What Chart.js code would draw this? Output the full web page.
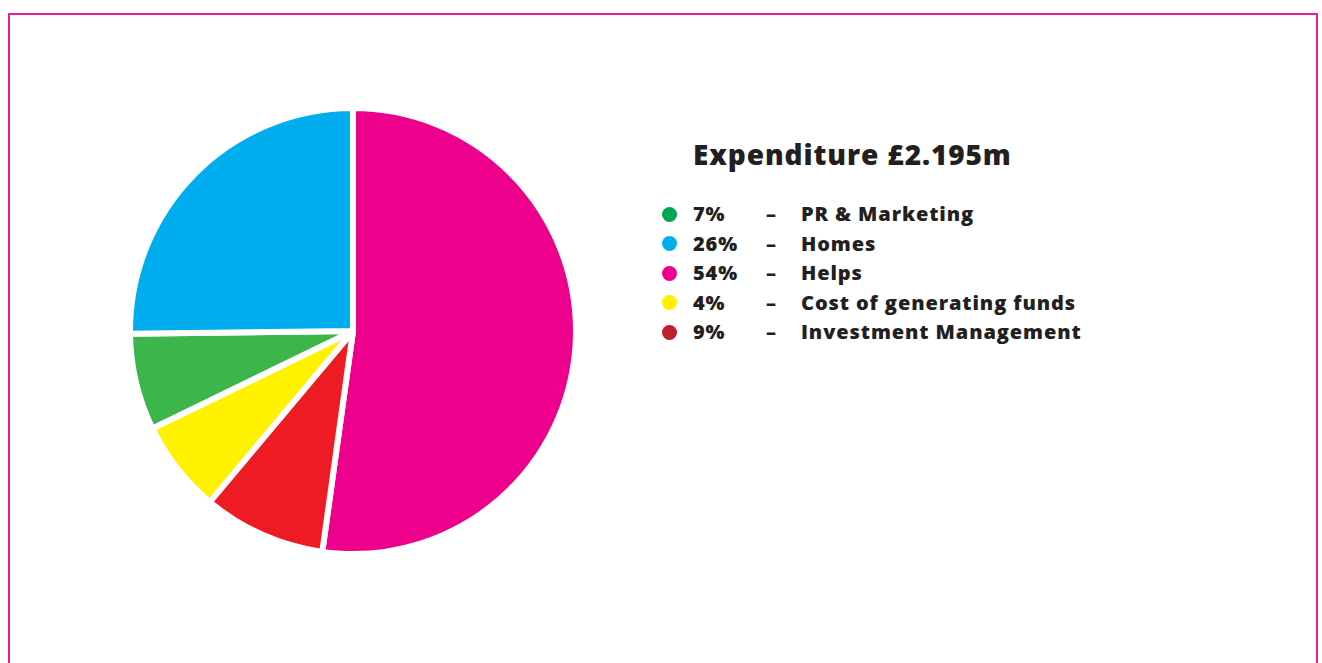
<!DOCTYPE html>
<html lang="en">
<head>
<meta charset="UTF-8">
<title>Expenditure</title>
<script src="https://cdn.jsdelivr.net/npm/chart.js"></script>
<style>
    body {
        margin: 0;
        width: 1322px;
        height: 663px;
        background: #fff;
        overflow: hidden;
        position: relative;
        font-family: "Open Sans", Lato, Arial, sans-serif;
        color: #231f20;
    }

    .frame {
        position: absolute;
        left: 8px;
        top: 13px;
        width: 1306px;
        height: 700px;
        border: 2px solid #ec1c94;
    }

    .pie-box {
        position: absolute;
        left: 127px;
        top: 105px;
        width: 452px;
        height: 452px;
    }

    .legend {
        position: absolute;
        left: 660px;
        top: 134px;
    }

    .legend h2 {
        margin: 0 0 0 33px;
        font-size: 28px;
        font-weight: 800;
        line-height: 40px;
        letter-spacing: 0.9px;
    }

    .legend ul {
        list-style: none;
        margin: 25px 0 0 0;
        padding: 0;
    }

    .legend li {
        position: relative;
        height: 29.5px;
        line-height: 29.5px;
        font-size: 20px;
        font-weight: 800;
        letter-spacing: 0.9px;
        white-space: nowrap;
    }

    .legend .dot {
        position: absolute;
        left: 2px;
        top: 7.5px;
        width: 15px;
        height: 15px;
        border-radius: 50%;
    }

    .legend .pct { position: absolute; left: 33px; }
    .legend .dash { position: absolute; left: 106px; }
    .legend .name { position: absolute; left: 141px; }
</style>
</head>
<body>
<div class="frame"></div>

<div class="pie-box">
    <canvas id="pieChart"></canvas>
</div>

<div class="legend">
    <h2>Expenditure £2.195m</h2>
    <ul id="legendList"></ul>
</div>

<script>
    // categorias en el orden de la leyenda
    const categories = ['PR & Marketing', 'Homes', 'Helps', 'Cost of generating funds', 'Investment Management'];
    // porcentajes tal como aparecen impresos
    const printedPercent = [7, 26, 54, 4, 9];
    // tamaño de cada porción tal como se dibuja en el grafico
    const sliceShare = [7.0, 25.2, 52.2, 6.7, 8.9];
    // orden de las porciones, en sentido horario desde las 12
    const sliceOrder = [2, 4, 3, 0, 1];

    const legendColors = ['#00a651', '#00aeef', '#ec008c', '#fff200', '#be1e2d'];
    const sliceColors = ['#3cb54a', '#00aeef', '#ec008c', '#fff200', '#ed1c24'];

    // leyenda
    const lista = document.getElementById('legendList');
    categories.forEach((cat, i) => {
        const li = document.createElement('li');
        li.innerHTML =
            '<span class="dot" style="background:' + legendColors[i] + '"></span>' +
            '<span class="pct">' + printedPercent[i] + '%</span>' +
            '<span class="dash">\u2013</span>' +
            '<span class="name"></span>';
        li.querySelector('.name').textContent = cat;
        lista.appendChild(li);
    });

    new Chart(document.getElementById('pieChart'), {
        type: 'pie',
        data: {
            labels: sliceOrder.map(i => categories[i]),
            datasets: [{
                data: sliceOrder.map(i => sliceShare[i]),
                backgroundColor: sliceOrder.map(i => sliceColors[i]),
                borderColor: '#ffffff',
                borderWidth: 6
            }]
        },
        options: {
            responsive: true,
            maintainAspectRatio: false,
            animation: false,
            layout: { padding: 0 },
            plugins: {
                legend: { display: false },
                tooltip: { enabled: false }
            }
        }
    });
</script>
</body>
</html>
